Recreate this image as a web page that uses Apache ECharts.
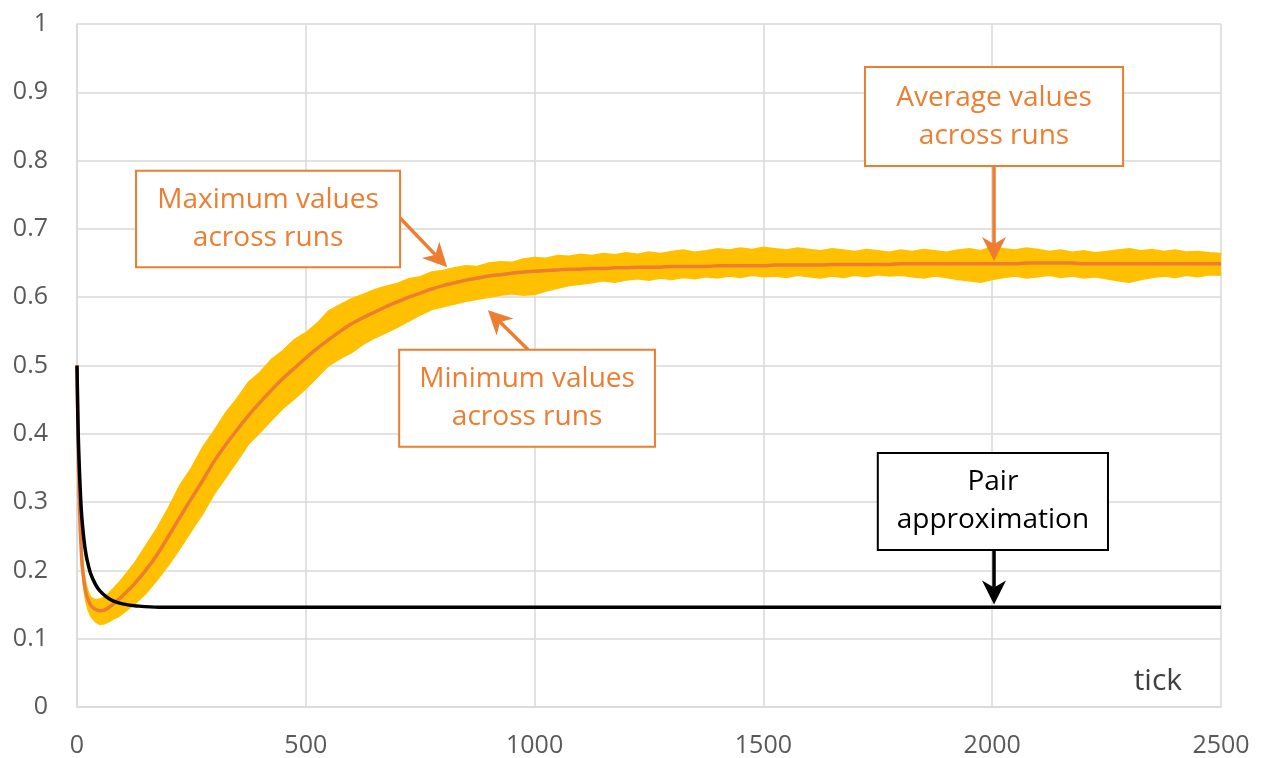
<!DOCTYPE html>
<html>
<head>
<meta charset="utf-8">
<script src="https://cdn.jsdelivr.net/npm/echarts@6/dist/echarts.min.js"></script>
<style>
  html, body { margin: 0; padding: 0; background: #ffffff; }
  #chart { width: 1261px; height: 758px; }
</style>
</head>
<body>
<div id="chart"></div>
<script>
// ---------- data ----------
const ticks = [0,5,10,15,20,25,30,40,50,60,70,80,90,100,125,150,175,200,
  225,250,275,300,325,350,375,400,425,450,475,500,525,550,575,600,625,650,675,700,
  725,750,775,800,825,850,875,900,925,950,975,1000,1025,1050,1075,1100,1125,1150,1175,1200,
  1225,1250,1275,1300,1325,1350,1375,1400,1425,1450,1475,1500,1525,1550,1575,1600,1625,1650,
  1675,1700,1725,1750,1775,1800,1825,1850,1875,1900,1925,1950,1975,2000,2025,2050,2075,2100,
  2125,2150,2175,2200,2225,2250,2275,2300,2325,2350,2375,2400,2425,2450,2475,2500];

const avgValues = [0.500,0.300,0.220,0.185,0.166,0.156,0.149,0.143,0.141,0.142,0.146,0.151,0.157,0.163,0.180,0.200,0.223,0.250,
  0.278,0.305,0.332,0.360,0.384,0.406,0.427,0.446,0.464,0.481,0.496,0.511,0.525,0.538,0.550,0.561,0.570,0.578,0.586,0.593,
  0.600,0.606,0.612,0.617,0.621,0.625,0.628,0.631,0.633,0.635,0.637,0.638,0.639,0.640,0.641,0.641,0.642,0.642,0.643,0.643,
  0.644,0.644,0.644,0.645,0.645,0.645,0.645,0.646,0.646,0.646,0.646,0.646,0.647,0.647,0.647,0.647,0.647,0.648,
  0.648,0.648,0.648,0.648,0.648,0.649,0.649,0.649,0.649,0.649,0.649,0.649,0.649,0.649,0.649,0.649,0.650,0.650,
  0.650,0.650,0.650,0.649,0.649,0.649,0.649,0.649,0.649,0.649,0.649,0.649,0.649,0.649,0.649,0.649];

const maxValues = [0.500,0.320,0.236,0.198,0.179,0.168,0.161,0.157,0.158,0.161,0.167,0.174,0.181,0.189,0.210,0.236,0.262,0.292,
  0.325,0.350,0.381,0.405,0.431,0.452,0.476,0.490,0.509,0.522,0.538,0.548,0.562,0.580,0.589,0.598,0.604,0.611,0.616,0.620,
  0.627,0.630,0.637,0.639,0.643,0.646,0.645,0.650,0.652,0.651,0.656,0.658,0.657,0.661,0.660,0.663,0.661,0.664,0.662,0.665,
  0.663,0.666,0.664,0.667,0.669,0.666,0.668,0.671,0.669,0.672,0.670,0.673,0.671,0.669,0.672,0.670,0.668,0.671,
  0.669,0.667,0.670,0.668,0.666,0.669,0.667,0.670,0.668,0.666,0.669,0.671,0.668,0.674,0.671,0.669,0.672,0.670,
  0.667,0.669,0.666,0.668,0.665,0.667,0.669,0.671,0.668,0.670,0.667,0.669,0.666,0.667,0.665,0.664];

const minValues = [0.500,0.282,0.206,0.172,0.152,0.141,0.133,0.125,0.121,0.122,0.125,0.129,0.132,0.137,0.150,0.166,0.186,0.208,
  0.232,0.258,0.283,0.312,0.336,0.360,0.385,0.402,0.420,0.437,0.451,0.466,0.483,0.500,0.510,0.519,0.531,0.540,0.548,0.556,
  0.565,0.574,0.582,0.586,0.590,0.594,0.597,0.600,0.603,0.605,0.603,0.604,0.609,0.613,0.617,0.619,0.621,0.624,0.622,0.625,
  0.627,0.625,0.628,0.626,0.629,0.627,0.630,0.628,0.631,0.629,0.632,0.630,0.631,0.629,0.632,0.630,0.628,0.631,
  0.629,0.632,0.630,0.633,0.631,0.632,0.630,0.628,0.631,0.629,0.626,0.624,0.622,0.626,0.629,0.631,0.628,0.630,
  0.632,0.629,0.631,0.628,0.630,0.627,0.624,0.622,0.626,0.629,0.631,0.629,0.632,0.630,0.633,0.632];

const pairTicks = [0,2,4,6,8,10,15,20,25,30,40,50,65,80,100,130,180,250,500,1000,1500,2000,2500];
const pairValues = [0.500,0.420,0.370,0.335,0.305,0.282,0.246,0.222,0.207,0.195,0.180,0.170,0.161,0.155,0.151,0.148,0.146,0.146,0.146,0.146,0.146,0.146,0.146];

const xTickLabels = ['0','500','1000','1500','2000','2500'];
const yTickLabels = ['0','0.1','0.2','0.3','0.4','0.5','0.6','0.7','0.8','0.9','1'];

// ---------- chart ----------
const FONT = "'Open Sans', 'Noto Sans', sans-serif";
const ORANGE = '#ED7D31';
const chart = echarts.init(document.getElementById('chart'), null, { renderer: 'canvas' });

const bandData = ticks.map((t, i) => [t, minValues[i], maxValues[i]]);
const avgSeriesData = ticks.map((t, i) => [t, avgValues[i]]);
const pairSeriesData = pairTicks.map((t, i) => [t, pairValues[i]]);

function renderBand(params, api) {
  if (params.dataIndex !== 0) return null;
  const upper = bandData.map(d => api.coord([d[0], d[2]]));
  const lower = bandData.map(d => api.coord([d[0], d[1]])).reverse();
  return {
    type: 'polygon',
    shape: { points: upper.concat(lower) },
    style: { fill: '#FFC000', stroke: '#FFC000', lineWidth: 1.5 },
    silent: true
  };
}

const option = {
  animation: false,
  backgroundColor: '#ffffff',
  grid: { left: 77, right: 40, top: 24, bottom: 51 },
  xAxis: {
    type: 'value', min: 0, max: 2500, interval: 500,
    axisLine: { show: true, lineStyle: { color: '#d9d9d9', width: 1.5 } },
    axisTick: { show: false },
    axisLabel: { color: '#595959', fontSize: 25, fontFamily: FONT, margin: 26,
      formatter: v => xTickLabels[Math.round(v / 500)] },
    splitLine: { show: true, lineStyle: { color: '#d9d9d9', width: 1.5 } }
  },
  yAxis: {
    type: 'value', min: 0, max: 1, interval: 0.1,
    axisLine: { show: true, lineStyle: { color: '#d9d9d9', width: 1.5 } },
    axisTick: { show: false },
    axisLabel: { color: '#595959', fontSize: 25, fontFamily: FONT, margin: 29,
      formatter: v => yTickLabels[Math.round(v * 10)] },
    splitLine: { show: true, lineStyle: { color: '#d9d9d9', width: 1.5 } }
  },
  series: [
    { name: 'band', type: 'custom', data: bandData, renderItem: renderBand,
      encode: { x: 0, y: [1, 2] }, silent: true, z: 2, clip: true },
    { name: 'average', type: 'line', data: avgSeriesData, symbol: 'none', smooth: 0.3,
      lineStyle: { width: 3.5, color: ORANGE }, silent: true, z: 3 },
    { name: 'pair', type: 'line', data: pairSeriesData, symbol: 'none', smooth: 0.4,
      lineStyle: { width: 3.5, color: '#000000' }, silent: true, z: 4 }
  ]
};
chart.setOption(option);

// ---------- annotations (positioned in data coordinates) ----------
const annotations = [
  { text: 'Maximum values\nacross runs', color: ORANGE, box: [129, 0.785, 706, 0.644], from: [706, 0.716], to: [809, 0.644] },
  { text: 'Minimum values\nacross runs', color: ORANGE, box: [704, 0.523, 1263, 0.381], from: [986, 0.523], to: [898, 0.581] },
  { text: 'Average values\nacross runs', color: ORANGE, box: [1722, 0.937, 2286, 0.792], from: [2004, 0.792], to: [2004, 0.653] },
  { text: 'Pair\napproximation', color: '#000000', box: [1750, 0.372, 2253, 0.230], from: [2004, 0.230], to: [2004, 0.150] }
];
const tickLabelPos = [2362, 0.037];

function px(p) { return chart.convertToPixel({ gridIndex: 0 }, p); }

const graphics = [];
annotations.forEach(a => {
  const p0 = px([a.box[0], a.box[1]]);
  const p1 = px([a.box[2], a.box[3]]);
  const s = px(a.from), t = px(a.to);
  const dx = t[0] - s[0], dy = t[1] - s[1];
  const len = Math.sqrt(dx * dx + dy * dy);
  const ux = dx / len, uy = dy / len, nx = -uy, ny = ux;
  const L = 24, W = 12, N = 7;
  const base = [t[0] - ux * (L - N), t[1] - uy * (L - N)];
  graphics.push({ type: 'line', z: 100, shape: { x1: s[0], y1: s[1], x2: base[0], y2: base[1] },
    style: { stroke: a.color, lineWidth: 3.5 } });
  graphics.push({ type: 'polygon', z: 100, shape: { points: [
      t,
      [t[0] - ux * L + nx * W, t[1] - uy * L + ny * W],
      base,
      [t[0] - ux * L - nx * W, t[1] - uy * L - ny * W]
    ] }, style: { fill: a.color } });
  graphics.push({ type: 'rect', z: 101, shape: { x: p0[0], y: p0[1], width: p1[0] - p0[0], height: p1[1] - p0[1] },
    style: { fill: '#ffffff', stroke: a.color, lineWidth: 2 } });
  graphics.push({ type: 'text', z: 102, x: (p0[0] + p1[0]) / 2, y: (p0[1] + p1[1]) / 2,
    style: { text: a.text, fill: a.color, font: "28px " + FONT, align: 'center', verticalAlign: 'middle', lineHeight: 38 } });
});
const tp = px(tickLabelPos);
graphics.push({ type: 'text', z: 102, x: tp[0], y: tp[1],
  style: { text: 'tick', fill: '#404040', font: "30px " + FONT, align: 'center', verticalAlign: 'middle' } });

chart.setOption({ graphic: graphics });
</script>
</body>
</html>
